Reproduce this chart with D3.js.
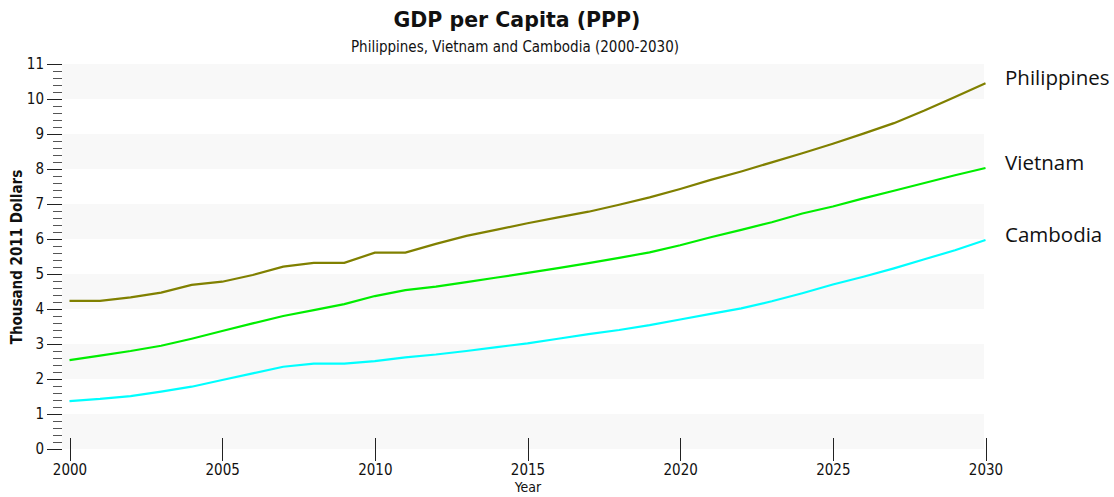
<!DOCTYPE html>
<meta charset="utf-8">
<script src="https://d3js.org/d3.v7.min.js"></script>
<style>
  body { margin: 0; background: #fff; }
  text { font-family: "DejaVu Sans Condensed", "DejaVu Sans", sans-serif; fill: #111; }
</style>
<div id="chart"></div>
<script>

// data, thousand 2011 dollars
var years = d3.range(2000, 2031);
var philippines = [4.23, 4.23, 4.33, 4.47, 4.69, 4.78, 4.97, 5.21, 5.32, 5.32, 5.61, 5.61, 5.86, 6.09, 6.27, 6.45, 6.62, 6.78, 6.98, 7.19, 7.43, 7.69, 7.93, 8.19, 8.45, 8.72, 9.01, 9.31, 9.67, 10.06, 10.45];
var vietnam = [2.54, 2.67, 2.80, 2.95, 3.15, 3.37, 3.59, 3.80, 3.97, 4.14, 4.37, 4.54, 4.64, 4.77, 4.90, 5.03, 5.17, 5.31, 5.46, 5.62, 5.82, 6.05, 6.26, 6.48, 6.73, 6.93, 7.16, 7.38, 7.60, 7.82, 8.03];
var cambodia = [1.37, 1.43, 1.51, 1.64, 1.78, 1.97, 2.16, 2.35, 2.44, 2.44, 2.51, 2.62, 2.70, 2.80, 2.91, 3.02, 3.15, 3.28, 3.40, 3.54, 3.70, 3.86, 4.02, 4.22, 4.45, 4.70, 4.92, 5.16, 5.42, 5.68, 5.97];
var seriesNames = ["Philippines", "Vietnam", "Cambodia"];
var seriesColors = ["#808000", "#00ee00", "#00ffff"];
var xTicks = [2000, 2005, 2010, 2015, 2020, 2025, 2030];
var yTicks = d3.range(0, 12);

var W = 1114, H = 497;
var svg = d3.select("#chart").append("svg")
    .attr("width", W)
    .attr("height", H);

var x = d3.scaleLinear().domain([2000, 2030]).range([69.5, 985.5]);
var y = d3.scaleLinear().domain([0, 11]).range([449, 64]);

// alternating bands
svg.append("g").selectAll("rect")
  .data(yTicks.filter(function(d) { return d % 2 == 0 && d < 11; }))
  .enter().append("rect")
    .attr("x", 62)
    .attr("width", 922)
    .attr("y", function(d) { return y(d + 1); })
    .attr("height", function(d) { return y(d) - y(d + 1); })
    .attr("fill", "#f8f8f8");

// minor y ticks
svg.append("g")
  .attr("transform", "translate(62,0)")
  .call(d3.axisLeft(y).tickValues(d3.range(0, 55).map(function(i) { return i / 5; })).tickSize(9).tickFormat(""))
  .call(function(g) {
    g.select(".domain").remove();
    g.selectAll("line").attr("stroke", "#555").attr("shape-rendering", "crispEdges");
  });

// major y ticks
svg.append("g")
  .attr("transform", "translate(62,0)")
  .call(d3.axisLeft(y).tickValues(yTicks).tickSize(15).tickPadding(3))
  .call(function(g) {
    g.select(".domain").remove();
    g.selectAll("line").attr("stroke", "#222").attr("shape-rendering", "crispEdges");
    g.selectAll("text").attr("font-size", 15).attr("fill", "#222").attr("font-family", null);
  });

// x axis
svg.append("g")
  .attr("transform", "translate(0,438)")
  .call(d3.axisBottom(x).tickValues(xTicks).tickSize(23).tickPadding(3).tickFormat(d3.format("d")))
  .call(function(g) {
    g.select(".domain").remove();
    g.selectAll("line").attr("stroke", "#222").attr("shape-rendering", "crispEdges");
    g.selectAll("text").attr("font-size", 15).attr("fill", "#222").attr("font-family", null);
  });

// lines
var line = d3.line()
  .x(function(d, i) { return x(years[i]); })
  .y(function(d) { return y(d); });

var allSeries = [philippines, vietnam, cambodia];

svg.append("g").selectAll("path")
  .data(allSeries)
  .enter().append("path")
    .attr("d", line)
    .attr("fill", "none")
    .attr("stroke", function(d, i) { return seriesColors[i]; })
    .attr("stroke-width", 2.2);

// end labels
svg.append("g").selectAll("text")
  .data(allSeries)
  .enter().append("text")
    .attr("x", 1005)
    .attr("y", function(d) { return y(d[d.length - 1]) - 5; })
    .attr("dy", "0.35em")
    .style("font-family", "'Open Sans', sans-serif")
    .style("font-size", "20.5px")
    .text(function(d, i) { return seriesNames[i]; });

// titles
svg.append("text")
  .attr("x", 517).attr("y", 27)
  .attr("text-anchor", "middle")
  .style("font-family", "'DejaVu Sans', sans-serif")
  .style("font-weight", "bold")
  .style("font-size", "20.5px")
  .text("GDP per Capita (PPP)");

svg.append("text")
  .attr("x", 515).attr("y", 52)
  .attr("text-anchor", "middle")
  .style("font-size", "15px")
  .text("Philippines, Vietnam and Cambodia (2000-2030)");

svg.append("text")
  .attr("transform", "translate(22,257) rotate(-90)")
  .attr("text-anchor", "middle")
  .style("font-size", "15px")
  .style("font-weight", "bold")
  .text("Thousand 2011 Dollars");

svg.append("text")
  .attr("x", 528).attr("y", 492)
  .attr("text-anchor", "middle")
  .style("font-size", "14px")
  .text("Year");

</script>
